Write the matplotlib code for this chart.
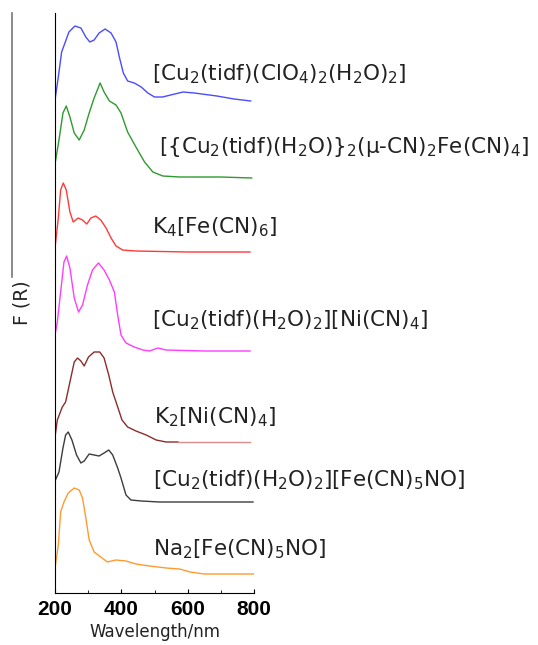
import numpy as np
import matplotlib
matplotlib.use('Agg')
from matplotlib import pyplot as plt

# spectra, stacked (arbitrary units, offsets included)
wl_blue = [200, 210, 220, 230, 242, 260, 278, 293, 305, 318, 333, 351, 369, 384, 394, 406, 419, 439, 460, 480, 500, 524, 586, 620, 688, 740, 790]
f_blue = [493, 516, 541, 550, 561, 567, 565, 556, 551, 553, 560, 564, 560, 551, 536, 520, 512, 510, 506, 500, 496, 496, 501, 500, 497, 494, 492]

wl_green = [200, 212, 224, 234, 245, 258, 273, 288, 303, 318, 336, 348, 364, 384, 399, 419, 444, 470, 495, 525, 576, 700, 793]
f_green = [429, 453, 480, 487, 476, 460, 453, 463, 480, 495, 510, 501, 492, 488, 480, 461, 446, 431, 421, 417, 416, 416, 415]

wl_red = [200, 210, 217, 225, 234, 245, 255, 270, 283, 296, 308, 323, 338, 354, 369, 384, 404, 444, 600, 788]
f_red = [345, 375, 403, 410, 403, 381, 371, 375, 373, 369, 375, 377, 373, 365, 355, 347, 343, 342, 341, 341]

wl_mag = [200, 207, 217, 227, 235, 245, 258, 271, 283, 298, 313, 331, 348, 364, 379, 389, 399, 414, 439, 465, 485, 510, 535, 650, 788]
f_mag = [258, 271, 301, 331, 337, 325, 295, 281, 288, 308, 323, 330, 323, 313, 301, 278, 258, 250, 246, 243, 242, 245, 243, 242, 242]

wl_brown = [200, 207, 222, 232, 245, 258, 268, 278, 288, 301, 318, 335, 348, 362, 374, 389, 402, 419, 444, 475, 505, 535, 571]
f_brown = [156, 173, 186, 191, 211, 231, 235, 232, 227, 236, 241, 241, 235, 218, 201, 186, 173, 166, 162, 158, 153, 151, 151]
wl_brown_tail = [571, 680, 788]
f_brown_tail = [151, 151, 151]

wl_black = [200, 212, 224, 232, 240, 251, 265, 278, 288, 303, 318, 333, 348, 362, 374, 389, 399, 414, 429, 460, 515, 700, 797]
f_black = [112, 121, 145, 158, 161, 153, 138, 130, 132, 139, 138, 137, 140, 143, 138, 125, 115, 98, 93, 92, 91, 91, 91]

wl_orange = [200, 210, 217, 227, 240, 258, 273, 283, 293, 303, 318, 338, 358, 384, 414, 444, 485, 535, 576, 607, 650, 800]
f_orange = [25, 48, 81, 91, 100, 105, 103, 95, 75, 53, 41, 36, 31, 33, 32, 29, 27, 25, 24, 21, 19, 19]

labels = [r'[Cu$_2$(tidf)(ClO$_4$)$_2$(H$_2$O)$_2$]',
          r'[{Cu$_2$(tidf)(H$_2$O)}$_2$(μ-CN)$_2$Fe(CN)$_4$]',
          r'K$_4$[Fe(CN)$_6$]',
          r'[Cu$_2$(tidf)(H$_2$O)$_2$][Ni(CN)$_4$]',
          r'K$_2$[Ni(CN)$_4$]',
          r'[Cu$_2$(tidf)(H$_2$O)$_2$][Fe(CN)$_5$NO]',
          r'Na$_2$[Fe(CN)$_5$NO]']
label_x = [493, 514, 493, 493, 499, 496, 496]
label_y = [519, 446, 366, 273, 176, 113, 44]

colors = ['#4b4bff', '#2f9a2f', '#ff3a3a', '#ff3cff', '#8b2c2c', '#3c3c3c', '#ff9a30']

fig = plt.figure(figsize=(5.38, 6.45), dpi=100)
ax = fig.add_axes([55/538, 1-593/645, 199/538, 580/645])

series = [(wl_blue, f_blue), (wl_green, f_green), (wl_red, f_red), (wl_mag, f_mag),
          (wl_brown, f_brown), (wl_black, f_black), (wl_orange, f_orange)]
for (x, y), c in zip(series, colors):
    ax.plot(x, y, color=c, lw=1)
ax.plot(wl_brown_tail, f_brown_tail, color='#d98c8c', lw=1)

for t, tx, ty in zip(labels, label_x, label_y):
    ax.text(tx, ty, t, fontsize=15.5, color='#222222', va='center', ha='left', clip_on=False)

ax.set_xlim(200, 800)
ax.set_ylim(0, 580)
ax.set_xticks([200, 400, 600, 800])
ax.set_xticks([300, 500, 700], minor=True)
ax.set_yticks([])
ax.tick_params(axis='x', direction='in', length=3, width=0.8, pad=5)
ax.tick_params(axis='x', which='minor', direction='in', length=2)
for lab in ax.get_xticklabels():
    lab.set_fontfamily('Liberation Sans')
    lab.set_fontweight('bold')
    lab.set_fontsize(15)
ax.spines['top'].set_visible(False)
ax.spines['right'].set_visible(False)
ax.set_xlabel('Wavelength/nm', fontsize=12, labelpad=3, color='#222222')

fig.text(22/538, 1-303/645, 'F (R)', rotation=90, fontsize=13.5, va='center', ha='center', color='#222222')
fig.add_artist(plt.Line2D([12/538, 12/538], [1-13/645, 1-277/645], color='#777777', lw=1.2))

fig.savefig('out.png', dpi=100)
